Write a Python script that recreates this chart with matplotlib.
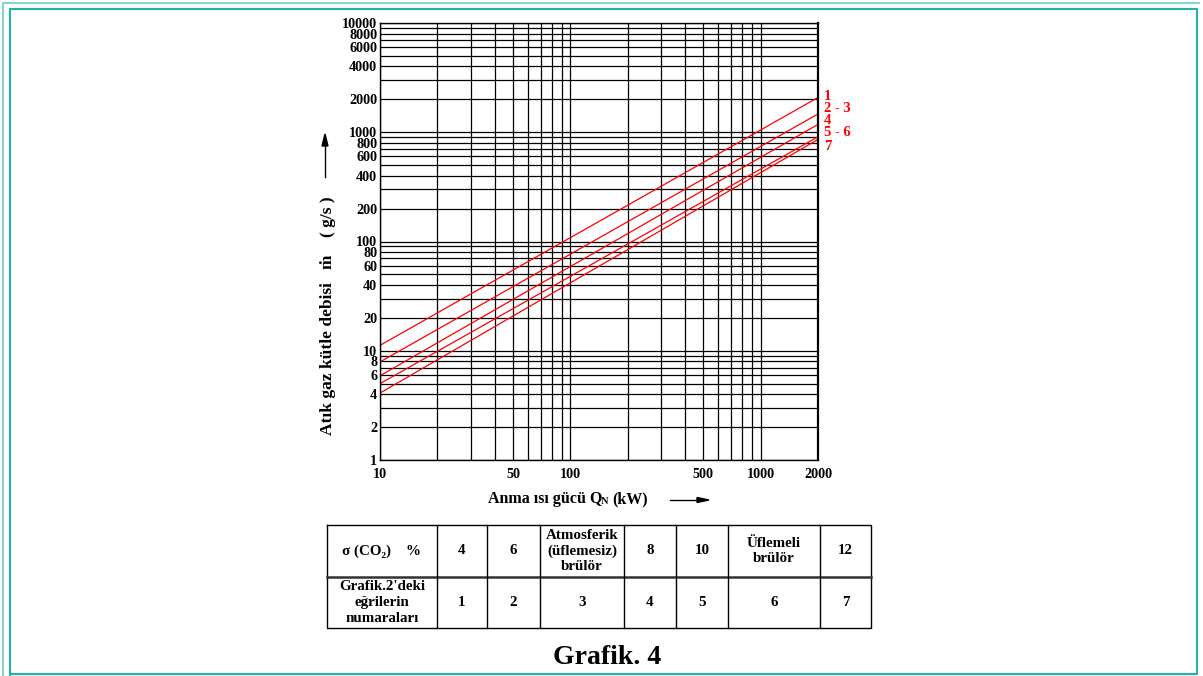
import matplotlib
matplotlib.use("Agg")
import matplotlib.pyplot as plt
from matplotlib.lines import Line2D
from matplotlib.ticker import FixedLocator, NullFormatter, LogLocator

plt.rcParams['font.family'] = ['Liberation Serif', 'DejaVu Serif']
plt.rcParams['font.weight'] = 'bold'

# curve end points: (Q at 10 kW, Q at 2000 kW)
q_ends = [10, 2000]
curve_1 = [11.2, 2080]
curve_2 = [7.9, 1470]
curve_4 = [5.9, 1180]
curve_5 = [5.0, 910]
curve_7 = [4.1, 860]
curves = [curve_1, curve_2, curve_4, curve_5, curve_7]
curve_labels = ["1", "2 - 3", "4", "5 - 6", "7"]
label_ypix = [97, 109, 120, 132, 147]

y_ticks = [1, 2, 4, 6, 8, 10, 20, 40, 60, 80, 100, 200, 400, 600, 800,
           1000, 2000, 4000, 6000, 8000, 10000]
x_ticks = [10, 50, 100, 500, 1000, 2000]

co2_row = ["σ (CO₂)    %", "4", "6", "Atmosferik\n(üflemesiz)\nbrülör", "8", "10",
           "Üflemeli\nbrülör", "12"]
curve_row = ["Grafik.2'deki\neğrilerin\nnumaraları", "1", "2", "3", "4", "5", "6", "7"]
col_edges = [327, 437, 487, 540, 624, 676, 728, 820, 871]

W, H = 1203, 676
fig = plt.figure(figsize=(W / 100, H / 100), dpi=100)

def fx(px):
    return px / W

def fy(py):
    return 1 - py / H

# frame
frame = fig.add_axes([0, 0, 1, 1])
frame.set_xlim(0, W)
frame.set_ylim(H, 0)
frame.axis('off')
frame.plot([3, 3, 1199], [675, 3, 3], color='#8ad4d0', lw=1.5)
frame.plot([10, 10, 1197, 1197, 10], [675, 9, 9, 674, 674], color='#1fb3aa', lw=1.5)

# main chart
ax = fig.add_axes([fx(380), fy(460), fx(818) - fx(380), fy(23) - fy(460)])
ax.set_xscale('log')
ax.set_yscale('log')
ax.set_xlim(10, 2000)
ax.set_ylim(1, 10000)
ax.xaxis.set_major_locator(FixedLocator(x_ticks))
ax.yaxis.set_major_locator(FixedLocator(y_ticks))
ax.xaxis.set_minor_locator(LogLocator(subs=range(1, 10)))
ax.yaxis.set_minor_locator(LogLocator(subs=range(1, 10)))
ax.xaxis.set_minor_formatter(NullFormatter())
ax.yaxis.set_minor_formatter(NullFormatter())
ax.set_xticklabels([str(t) for t in x_ticks])
ax.set_yticklabels([str(t) for t in y_ticks])
ax.tick_params(which='both', length=0, labelsize=10.2, pad=2)
ax.tick_params(axis='x', pad=6)
ax.grid(True, which='both', color='black', lw=0.9)
for s in ax.spines.values():
    s.set_color('black')
    s.set_linewidth(1.0)
ax.spines['right'].set_linewidth(1.6)

for c in curves:
    ax.plot(q_ends, c, color='red', lw=0.9)

for lab, py in zip(curve_labels, label_ypix):
    fig.text(fx(824), fy(py), lab, color='red', fontsize=10.5, fontweight='bold',
             ha='left', va='center')

# axis labels
fig.text(fx(328), fy(316), "Atık gaz kütle debisi   ṁ    ( g/s )", rotation=90,
         fontsize=12.5, fontweight='bold', ha='center', va='center')
fig.add_artist(Line2D([fx(325), fx(325)], [fy(177), fy(140)], color='black', lw=1))
fig.patches.append(plt.Polygon([[fx(322), fy(146)], [fx(328), fy(146)], [fx(325), fy(134)]],
                               closed=True, color='black', transform=fig.transFigure))

fig.text(fx(488), fy(499), "Anma ısı gücü Q", fontsize=11.5, fontweight='bold',
         ha='left', va='center')
fig.text(fx(601), fy(502), "N", fontsize=7.5, fontweight='bold', ha='left', va='center')
fig.text(fx(612), fy(499), "(kW)", fontsize=11.5, fontweight='bold', ha='left', va='center')
fig.add_artist(Line2D([fx(670), fx(700)], [fy(500), fy(500)], color='black', lw=1))
fig.patches.append(plt.Polygon([[fx(697), fy(497.5)], [fx(697), fy(502.5)], [fx(709), fy(500)]],
                               closed=True, color='black', transform=fig.transFigure))

# table
tab = frame
top, mid, bot = 525, 577, 628
tab.plot([col_edges[0], col_edges[-1], col_edges[-1], col_edges[0], col_edges[0]],
         [top, top, bot, bot, top], color='black', lw=1)
tab.plot([col_edges[0], col_edges[-1]], [mid, mid], color='#333333', lw=1.8)
for xe in col_edges[1:-1]:
    tab.plot([xe, xe], [top, bot], color='black', lw=1)
for i in range(len(co2_row)):
    xc = (col_edges[i] + col_edges[i + 1]) / 2
    tab.text(xc, (top + mid) / 2, co2_row[i], fontsize=10.8, fontweight='bold',
             ha='center', va='center', linespacing=1.25)
    tab.text(xc, (mid + bot) / 2, curve_row[i], fontsize=10.8, fontweight='bold',
             ha='center', va='center', linespacing=1.25)

fig.text(fx(607), fy(657), "Grafik. 4", fontsize=20, fontweight='bold',
         ha='center', va='center')

fig.savefig("out.png", dpi=100)
